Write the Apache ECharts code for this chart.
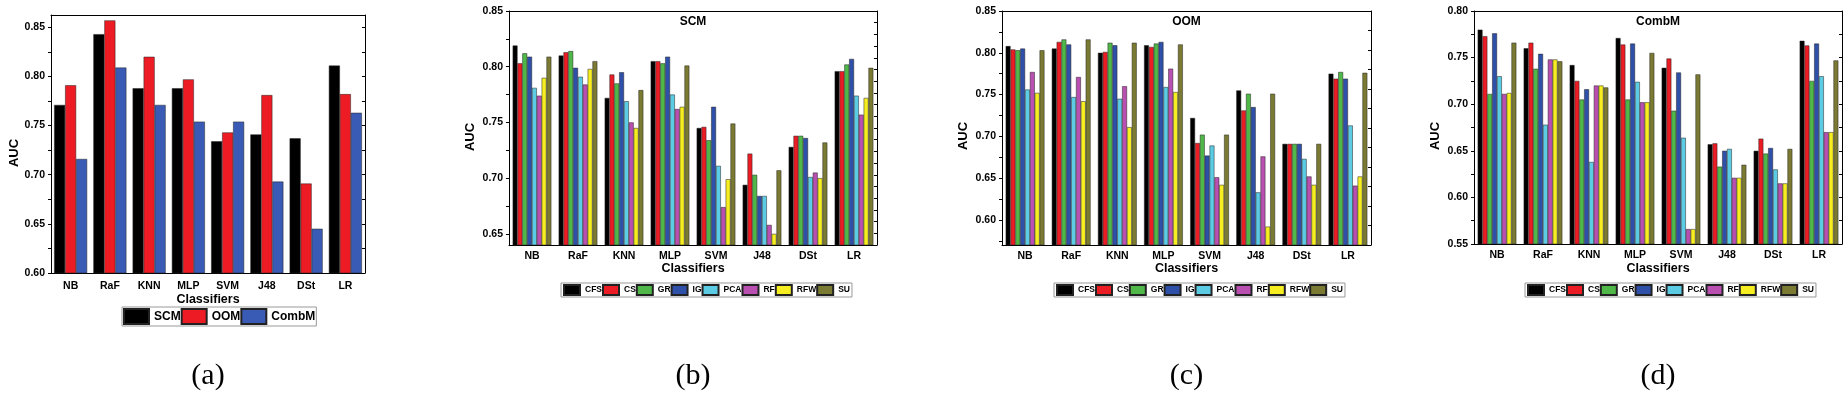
<!DOCTYPE html>
<html>
<head>
<meta charset="utf-8">
<title>AUC by classifier</title>
<script src="https://cdn.jsdelivr.net/npm/echarts@6/dist/echarts.min.js"></script>
<style>
  html, body { margin: 0; padding: 0; background: #fff; }
  #chart { width: 1844px; height: 396px; }
</style>
</head>
<body>
<div id="chart"></div>
<script>
// categories and series names
const categories = ['NB', 'RaF', 'KNN', 'MLP', 'SVM', 'J48', 'DSt', 'LR']
const modelNames = ['SCM', 'OOM', 'CombM']
const methodNames = ['CFS', 'CS', 'GR', 'IG', 'PCA', 'RF', 'RFW', 'SU']

// (a) AUC per model
const scmAUC = [0.771, 0.843, 0.788, 0.788, 0.734, 0.741, 0.737, 0.811]
const oomAUC = [0.791, 0.857, 0.820, 0.797, 0.743, 0.781, 0.691, 0.782]
const combAUC = [0.716, 0.809, 0.771, 0.754, 0.754, 0.693, 0.645, 0.763]

// (b) SCM, one row per feature selection method (CFS .. SU)
const scmByMethod = [
  [0.819, 0.810, 0.772, 0.805, 0.745, 0.694, 0.728, 0.796],
  [0.803, 0.813, 0.793, 0.805, 0.746, 0.722, 0.738, 0.796],
  [0.812, 0.814, 0.785, 0.803, 0.734, 0.703, 0.738, 0.802],
  [0.809, 0.799, 0.795, 0.809, 0.764, 0.684, 0.736, 0.807],
  [0.781, 0.791, 0.769, 0.775, 0.711, 0.684, 0.701, 0.774],
  [0.774, 0.784, 0.750, 0.762, 0.674, 0.658, 0.705, 0.757],
  [0.790, 0.798, 0.745, 0.764, 0.699, 0.650, 0.700, 0.772],
  [0.809, 0.805, 0.779, 0.801, 0.749, 0.707, 0.732, 0.799]
]

// (c) OOM
const oomByMethod = [
  [0.808, 0.805, 0.800, 0.809, 0.722, 0.755, 0.691, 0.775],
  [0.804, 0.813, 0.801, 0.807, 0.692, 0.731, 0.691, 0.769],
  [0.803, 0.816, 0.812, 0.811, 0.702, 0.751, 0.691, 0.777],
  [0.805, 0.810, 0.809, 0.813, 0.677, 0.735, 0.691, 0.769],
  [0.756, 0.747, 0.745, 0.759, 0.689, 0.633, 0.673, 0.713],
  [0.777, 0.771, 0.760, 0.781, 0.651, 0.676, 0.652, 0.641],
  [0.752, 0.742, 0.711, 0.753, 0.642, 0.592, 0.642, 0.652],
  [0.803, 0.816, 0.812, 0.810, 0.702, 0.751, 0.691, 0.776]
]

// (d) CombM
const combByMethod = [
  [0.780, 0.760, 0.742, 0.771, 0.739, 0.657, 0.650, 0.768],
  [0.773, 0.766, 0.725, 0.764, 0.749, 0.658, 0.663, 0.763],
  [0.711, 0.738, 0.705, 0.705, 0.693, 0.633, 0.647, 0.725],
  [0.776, 0.754, 0.716, 0.765, 0.734, 0.650, 0.653, 0.765],
  [0.730, 0.678, 0.638, 0.724, 0.664, 0.652, 0.630, 0.730],
  [0.711, 0.748, 0.720, 0.702, 0.566, 0.621, 0.615, 0.670],
  [0.712, 0.748, 0.720, 0.702, 0.566, 0.621, 0.615, 0.670],
  [0.766, 0.746, 0.718, 0.755, 0.732, 0.635, 0.652, 0.747]
]

// y tick labels and ranges per panel
const aTicks = [0.60, 0.65, 0.70, 0.75, 0.80, 0.85]
const bTicks = [0.65, 0.70, 0.75, 0.80, 0.85]
const cTicks = [0.60, 0.65, 0.70, 0.75, 0.80, 0.85]
const dTicks = [0.55, 0.60, 0.65, 0.70, 0.75, 0.80]
const yRanges = [[0.60, 0.8625], [0.64, 0.85], [0.57, 0.85], [0.55, 0.80]]
const panelTitles = ['', 'SCM', 'OOM', 'CombM']
const panelLetters = ['(a)', '(b)', '(c)', '(d)']

const font = 'Liberation Sans, Arial, sans-serif'
const modelColors = ['#000000', '#ed1c24', '#3a5bb5']
const methodColors = ['#000000', '#ec1c24', '#4fb848', '#2f50a8', '#5ccbe4', '#b94fb1', '#f6ee20', '#7a7a32']

const grids = [
  { left: 51, top: 15, width: 314, height: 258 },
  { left: 509, top: 11, width: 368, height: 234 },
  { left: 1002, top: 11, width: 369, height: 234 },
  { left: 1474, top: 11, width: 368, height: 233 }
]
const rightDivisions = [10.5, 20, 12, 10]
const tickSets = [aTicks, bTicks, cTicks, dTicks]
// axis title centres (x title y, y title x/y)
const xTitleY = [300, 269, 269, 269]
const yTitlePos = [[14, 153], [470, 137], [963, 136], [1435, 136]]

const xAxis = []
const yAxis = []
const series = []
const legend = []
const graphic = []

grids.forEach((g, i) => {
  const small = i > 0
  // bottom category axis
  xAxis.push({
    type: 'category',
    gridIndex: i,
    data: categories,
    position: 'bottom',
    axisLine: { lineStyle: { color: '#000', width: 1 } },
    axisTick: { alignWithLabel: true, length: 3, lineStyle: { color: '#000' } },
    axisLabel: { color: '#000', fontFamily: font, fontWeight: 'bold', fontSize: 10.5, margin: small ? 6 : 8 }
  })
  // top frame
  xAxis.push({
    type: 'category',
    gridIndex: i,
    data: categories,
    position: 'top',
    axisLine: { lineStyle: { color: '#000', width: 1 } },
    axisTick: { alignWithLabel: true, inside: true, length: 3, lineStyle: { color: '#000' } },
    axisLabel: { show: false }
  })
  const ticks = tickSets[i]
  const minor = ticks.map(v => v + 0.025).filter(v => v < yRanges[i][1])
  if (ticks[0] - 0.025 >= yRanges[i][0]) minor.push(ticks[0] - 0.025)
  yAxis.push({
    type: 'value',
    gridIndex: i,
    min: yRanges[i][0],
    max: yRanges[i][1],
    position: 'left',
    splitLine: { show: false },
    axisLine: { show: true, lineStyle: { color: '#000', width: 1 } },
    axisTick: { show: true, length: 3, customValues: ticks.concat(minor), lineStyle: { color: '#000' } },
    axisLabel: {
      customValues: ticks,
      color: '#000', fontFamily: font, fontWeight: 'bold', fontSize: 10.5, margin: 6,
      formatter: v => v.toFixed(2)
    }
  })
  // right frame
  yAxis.push({
    type: 'value',
    gridIndex: i,
    min: 0,
    max: rightDivisions[i],
    interval: 1,
    position: 'right',
    splitLine: { show: false },
    axisLine: { show: true, lineStyle: { color: '#000', width: 1 } },
    axisTick: { show: true, inside: true, length: 3, lineStyle: { color: '#000' } },
    axisLabel: { show: false }
  })

  const names = small ? methodNames : modelNames
  const colors = small ? methodColors : modelColors
  const rows = [[scmAUC, oomAUC, combAUC], scmByMethod, oomByMethod, combByMethod][i]
  rows.forEach((row, k) => {
    series.push({
      type: 'bar',
      name: names[k],
      xAxisIndex: 2 * i,
      yAxisIndex: 2 * i,
      data: row,
      barGap: '0%',
      barCategoryGap: '16%',
      itemStyle: { color: colors[k], borderColor: '#222', borderWidth: 0.5 }
    })
  })

  legend.push(small ? {
    data: methodNames,
    left: [0, 561, 1054, 1525][i],
    top: 283,
    orient: 'horizontal',
    itemWidth: 16,
    itemHeight: 10,
    itemGap: 0,
    padding: [1, 2],
    borderColor: '#999',
    borderWidth: 1,
    icon: 'rect',
    selectedMode: false,
    textStyle: { color: '#000', fontFamily: font, fontWeight: 'bold', fontSize: 8.5 }
  } : {
    data: modelNames,
    left: 122,
    top: 307,
    orient: 'horizontal',
    itemWidth: 25,
    itemHeight: 15,
    itemGap: 0,
    padding: [1, 1],
    borderColor: '#999',
    borderWidth: 1,
    icon: 'rect',
    selectedMode: false,
    textStyle: { color: '#000', fontFamily: font, fontWeight: 'bold', fontSize: 12 }
  })

  const cx = g.left + g.width / 2
  if (panelTitles[i]) {
    graphic.push({
      type: 'text', x: cx, y: 22, z: 10,
      style: { text: panelTitles[i], textAlign: 'center', textVerticalAlign: 'middle', fill: '#000', font: 'bold 12px ' + font }
    })
  }
  graphic.push({
    type: 'text', x: cx, y: xTitleY[i],
    style: { text: 'Classifiers', textAlign: 'center', textVerticalAlign: 'middle', fill: '#000', font: 'bold 12.5px ' + font }
  })
  graphic.push({
    type: 'text', x: yTitlePos[i][0], y: yTitlePos[i][1], rotation: Math.PI / 2,
    style: { text: 'AUC', textAlign: 'center', textVerticalAlign: 'middle', fill: '#000', font: 'bold 13px ' + font }
  })
  graphic.push({
    type: 'text', x: cx, y: 376,
    style: { text: panelLetters[i], textAlign: 'center', textVerticalAlign: 'middle', fill: '#000', font: '30px Liberation Serif, Times New Roman, serif' }
  })
})

const myChart = echarts.init(document.getElementById('chart'))
myChart.setOption({
  animation: false,
  grid: grids,
  xAxis: xAxis,
  yAxis: yAxis,
  legend: legend,
  series: series,
  graphic: graphic
})
</script>
</body>
</html>
